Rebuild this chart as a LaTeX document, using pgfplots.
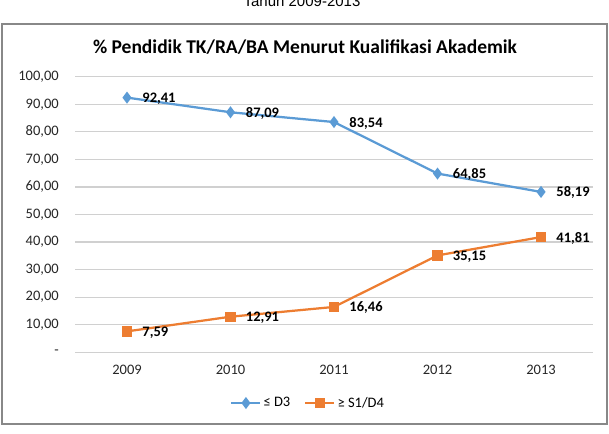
\documentclass[border=0pt]{standalone}
\usepackage{pgfplots}
\pgfplotsset{compat=1.18}
\usepackage{fontspec}
\setmainfont{Carlito}
\newfontfamily\arialfont{Liberation Sans}
\definecolor{xblue}{HTML}{5B9BD5}
\definecolor{xorange}{HTML}{ED7D31}
\definecolor{xgrid}{HTML}{D0D0D0}
\definecolor{xborder}{HTML}{888888}
\begin{document}
\begin{tikzpicture}[x=1bp,y=1bp]
\useasboundingbox (0,0) rectangle (609,434);
\node[font=\arialfont\fontsize{15bp}{18bp}\selectfont, anchor=base] at (302,427) {Tahun 2009-2013};
\draw[xborder, line width=2bp] (2,10) rectangle (607,410);
\node[font=\bfseries\fontsize{19.5bp}{23bp}\selectfont, anchor=base] at (305,380) {\% Pendidik TK/RA/BA Menurut Kualifikasi Akademik};
\begin{axis}[
  at={(75.25bp,81.7bp)}, anchor=south west,
  scale only axis, width=517.5bp, height=275.6bp,
  xmin=-0.5, xmax=4.5, ymin=0, ymax=100,
  ytick={0,10,...,100},
  yticklabels={-,{10,00},{20,00},{30,00},{40,00},{50,00},{60,00},{70,00},{80,00},{90,00},{100,00}},
  xtick={0,1,2,3,4},
  xticklabels={2009,2010,2011,2012,2013},
  axis line style={draw=none},
  major tick length=0pt,
  ymajorgrids,
  grid style={xgrid, line width=1.2bp},
  tick label style={font=\fontsize{14.5bp}{17bp}\selectfont, text=black!85},
  yticklabel style={xshift=-13bp},
  xticklabel style={yshift=-9.5bp},
  legend columns=2,
  legend style={at={(0.45,-0.184)}, anchor=center, draw=none, fill=none,
    font=\fontsize{14.5bp}{17bp}\selectfont,
    /tikz/every even column/.append style={column sep=12bp}},
  legend image code/.code={\draw[mark repeat=2,mark phase=2,#1] plot coordinates {(0bp,0bp) (14.5bp,0bp) (29bp,0bp)};},
  point meta=explicit symbolic,
  nodes near coords,
  every node near coord/.append style={anchor=west, xshift=11bp, yshift=-1bp, text=black,
    font=\bfseries\fontsize{14.5bp}{17bp}\selectfont},
]
\addplot[xblue, line width=2.25bp, mark=diamond*, mark size=4.2bp, mark options={solid}]
  table[meta=lab] {
x y lab
0 92.41 92,41
1 87.09 87,09
2 83.54 83,54
3 64.85 64,85
4 58.19 58,19
};
\addlegendentry{≤ D3}
\addplot[xorange, line width=2.25bp, mark=square*, mark size=4bp, mark options={solid}]
  table[meta=lab] {
x y lab
0 7.59 7,59
1 12.91 12,91
2 16.46 16,46
3 35.15 35,15
4 41.81 41,81
};
\addlegendentry{≥ S1/D4}
\end{axis}
\end{tikzpicture}
\end{document}
